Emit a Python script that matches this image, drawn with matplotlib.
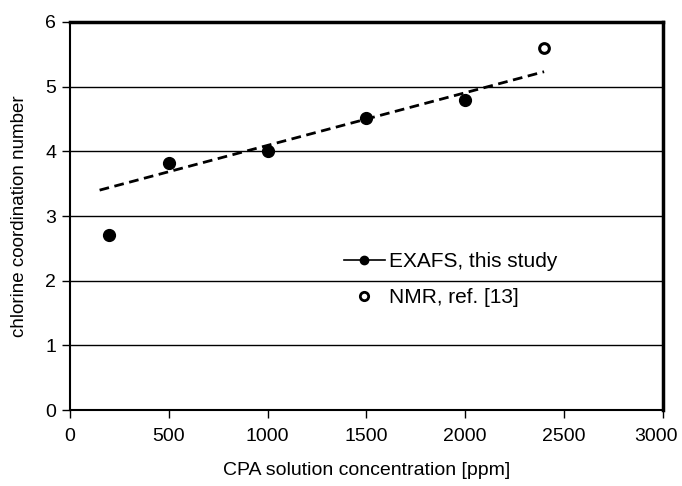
import matplotlib
matplotlib.use('Agg')
import matplotlib.pyplot as plt
import matplotlib.transforms as mtransforms
from matplotlib.lines import Line2D

plt.rcParams['font.family'] = ['Liberation Sans', 'DejaVu Sans']

# EXAFS data (this study)
exafs_conc = [200, 500, 1000, 1500, 2000]
exafs_cn = [2.7, 3.82, 4.0, 4.52, 4.8]
# NMR, ref. [13]
nmr_conc = [2400]
nmr_cn = [5.6]
# dashed trend line end points
trend_conc = [150, 2400]
trend_cn = [3.4, 5.23]

fig = plt.figure(figsize=(6.82, 4.86), dpi=100)
ax = fig.add_axes([0.1026, 0.156, 0.869, 0.799])

for yv in range(1, 6):
    ax.axhline(yv, color='black', lw=1.0, zorder=1)

ax.plot(trend_conc, trend_cn, ls=(0, (3.5, 2)), color='black', lw=2, zorder=2)
ax.plot(exafs_conc, exafs_cn, 'o', color='black', ms=8.5, zorder=3)
ax.plot(nmr_conc, nmr_cn, 'o', mfc='white', mec='black', mew=2.2, ms=7, zorder=3)

ax.set_xlim(0, 3000)
ax.set_ylim(0, 6)
ax.set_xticks(range(0, 3001, 500))
ax.set_yticks(range(0, 7))
ax.tick_params(direction='out', length=6, width=1, labelsize=14, colors='black')
ax.tick_params(axis='y', pad=4)
ax.tick_params(axis='x', pad=7)
ax.spines['left'].set_linewidth(1.5)
ax.spines['bottom'].set_linewidth(1.5)
ax.spines['top'].set_linewidth(2.5)
ax.spines['right'].set_linewidth(2.5)
ax.set_xlabel('CPA solution concentration [ppm]', fontsize=14, labelpad=12)
ax.set_ylabel('chlorine coordination number', fontsize=13.5, labelpad=12)

# nudge the last x tick label so it stays inside the figure
last = ax.get_xticklabels()[-1]
last.set_transform(last.get_transform() +
                   mtransforms.ScaledTranslation(-7 / 100, 0, fig.dpi_scale_trans))

handles = [
    Line2D([], [], color='black', marker='o', ms=6, lw=1.2),
    Line2D([], [], color='black', marker='o', mfc='white', mew=2, ms=6, lw=0),
]
ax.legend(handles, ['EXAFS, this study', 'NMR, ref. [13]'], loc='upper left',
          bbox_to_anchor=(0.43, 0.455), frameon=False, fontsize=15,
          handlelength=2.0, handletextpad=0.2, labelspacing=0.8)

fig.savefig('out.png', dpi=100)
